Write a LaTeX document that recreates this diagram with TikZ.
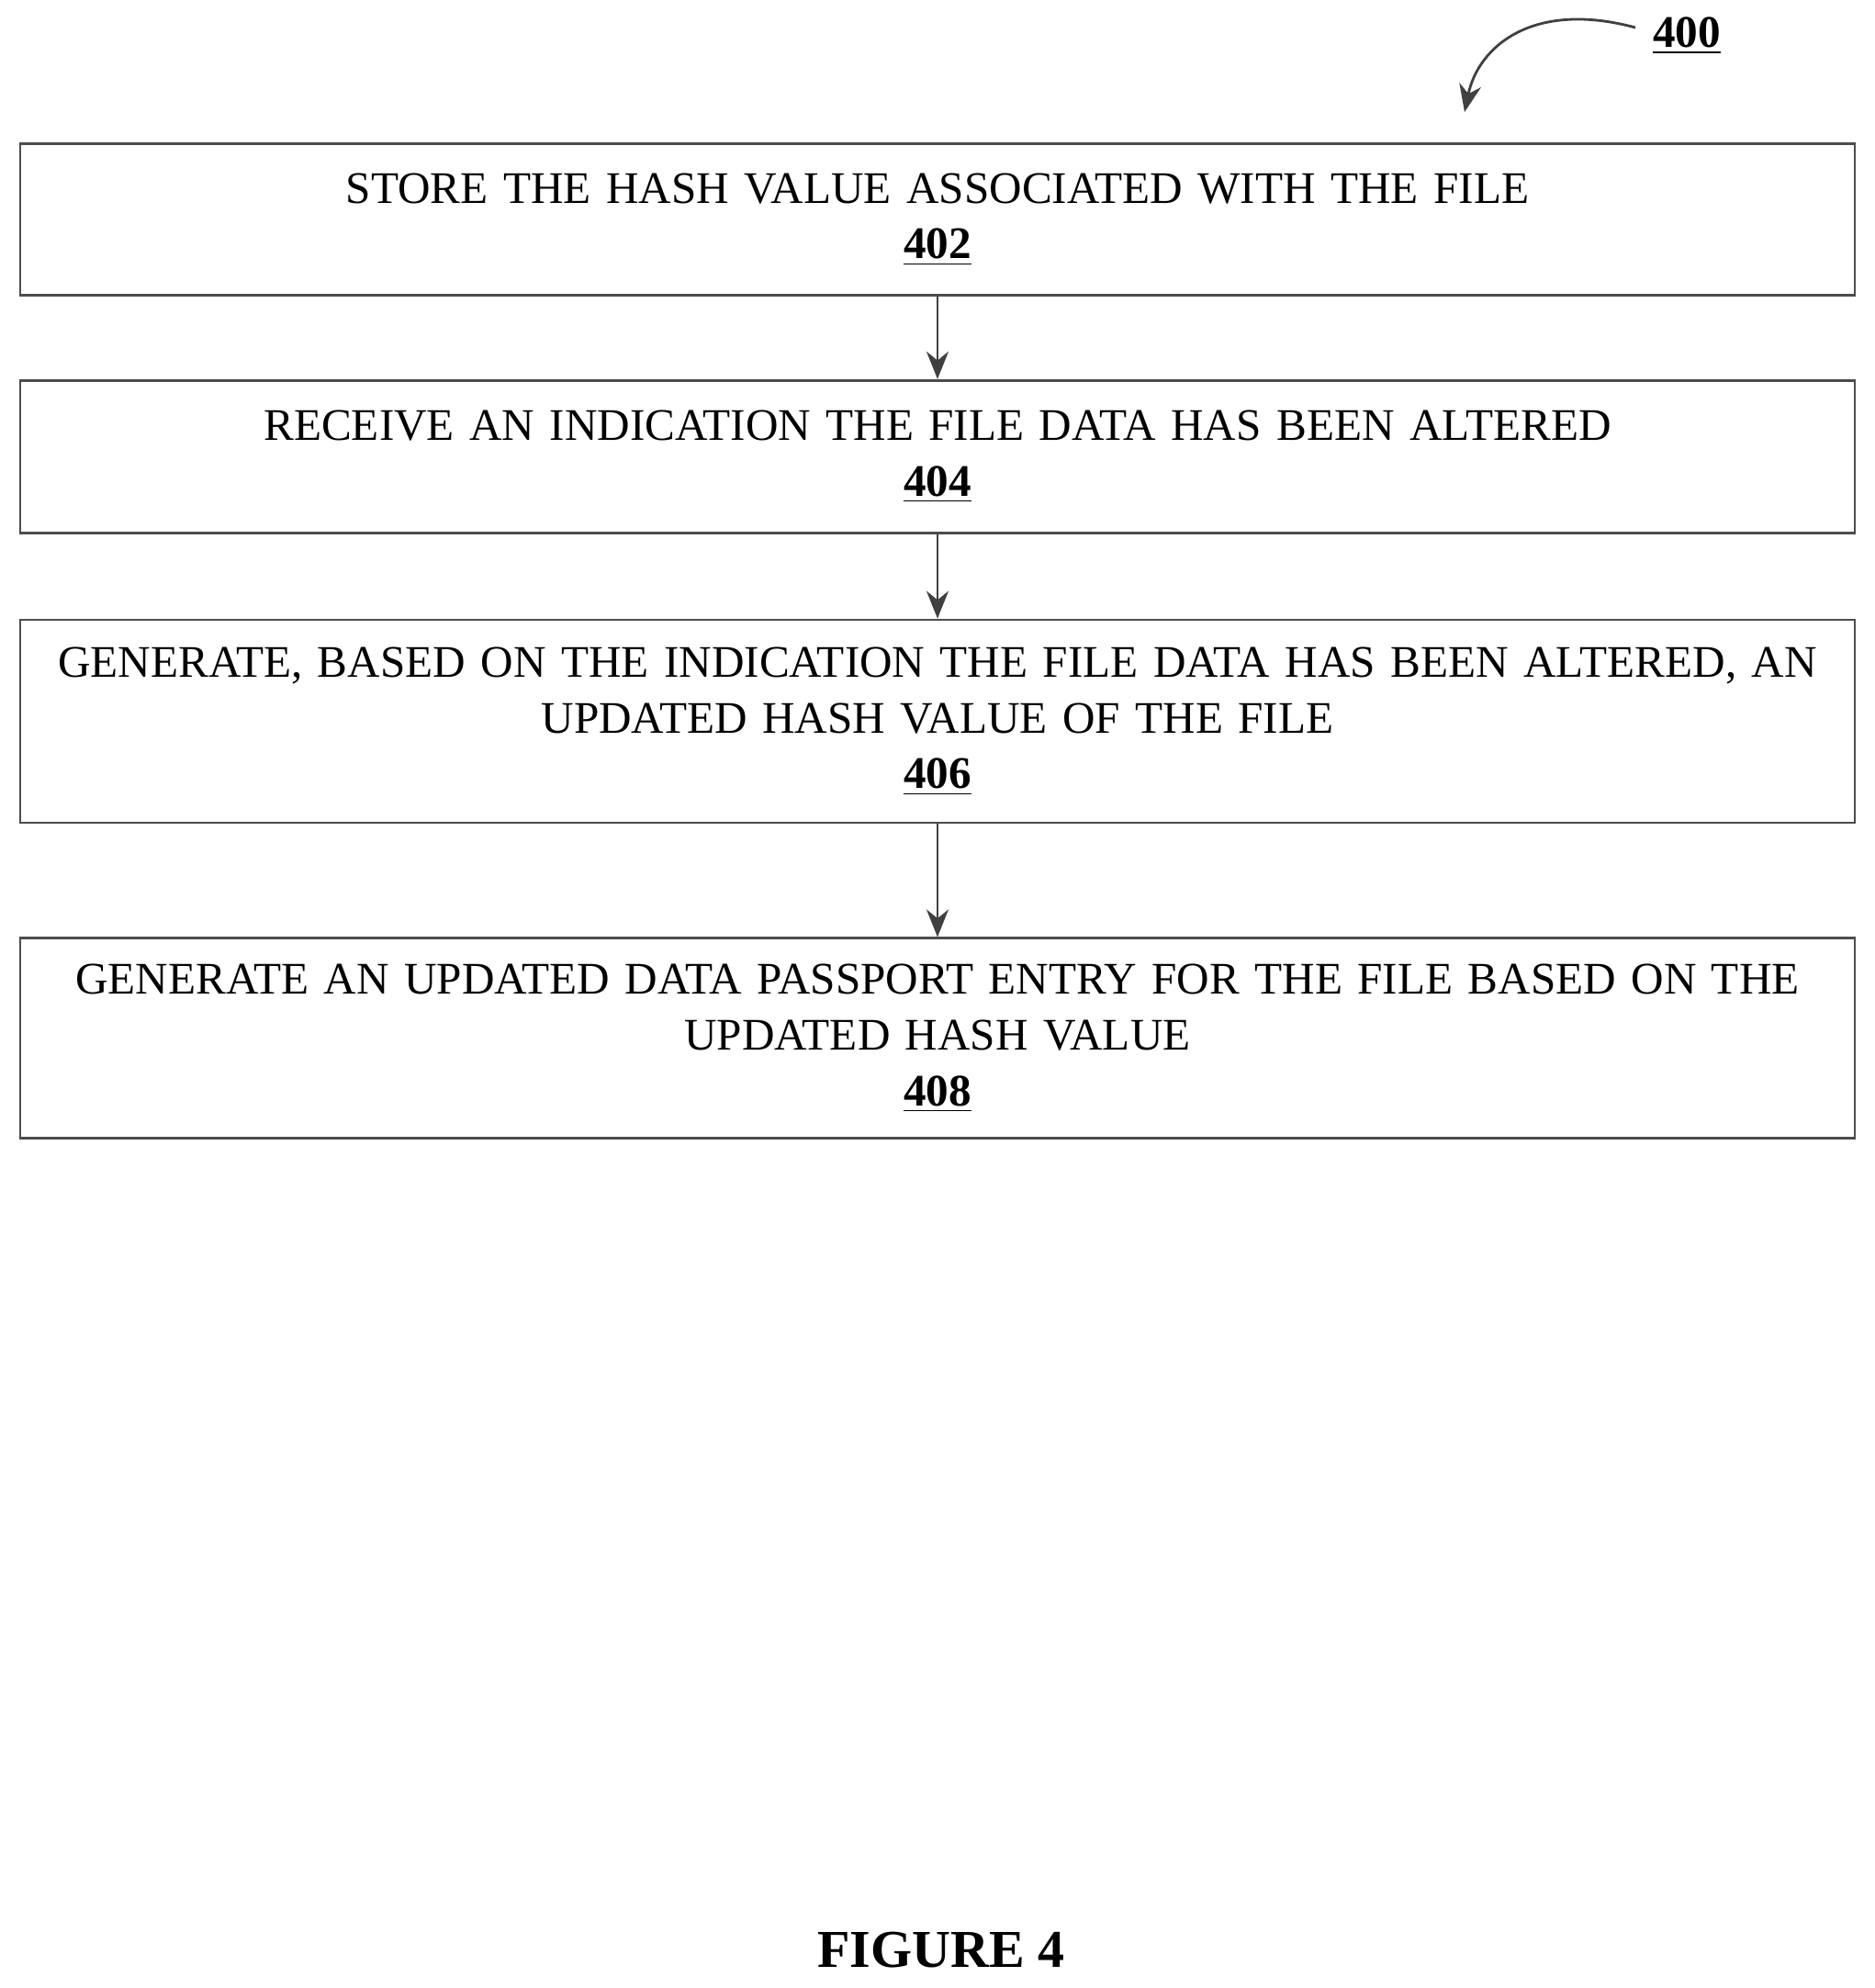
\documentclass[tikz,border=0pt]{standalone}
\usepackage{fontspec}
\setmainfont{Liberation Serif}
\usetikzlibrary{positioning,arrows.meta}
\tikzset{
  st/.style={rectangle, draw=black!70, line width=0.8pt, minimum width=19.98cm, text width=19.9cm, align=center, font=\fontsize{14}{17.3}\selectfont, inner sep=0pt},
  ar/.style={-{Stealth[length=3mm,width=2.4mm]}, draw=black!75, line width=0.8pt},
  node distance=9mm
}
\begin{document}
\begin{tikzpicture}
	\useasboundingbox (0,0) rectangle (20.42,-21.65);
	\node[st, minimum height=1.65cm, anchor=north] (store) at (10.21,-1.55) {STORE THE HASH VALUE ASSOCIATED WITH THE FILE\\\textbf{\underline{402}}};
	\node[st, minimum height=1.66cm, below=0.9cm of store] (recv) {RECEIVE AN INDICATION THE FILE DATA HAS BEEN ALTERED\\\textbf{\underline{404}}};
	\node[st, minimum height=2.21cm, below=0.92cm of recv] (hash) {GENERATE, BASED ON THE INDICATION THE FILE DATA HAS BEEN ALTERED, AN\\UPDATED HASH VALUE OF THE FILE\\\textbf{\underline{406}}};
	\node[st, minimum height=2.18cm, below=1.23cm of hash] (pass) {GENERATE AN UPDATED DATA PASSPORT ENTRY FOR THE FILE BASED ON THE\\UPDATED HASH VALUE\\\textbf{\underline{408}}};
	%
	\draw[ar] (store) -- (recv);
	\draw[ar] (recv) -- (hash);
	\draw[ar] (hash) -- (pass);
	%
	\node[font=\fontsize{14}{17}\selectfont\bfseries] (fig) at (18.37,-0.39) {\underline{400}};
	\coordinate (figend) at (15.95,-1.22);
	\draw[ar] (17.81,-0.30) .. controls (16.7,0.0) and (16.1,-0.5) .. (figend);
	\node[font=\fontsize{16.5}{20}\selectfont\bfseries] (title) at (10.25,-21.24) {FIGURE 4};
\end{tikzpicture}
\end{document}
